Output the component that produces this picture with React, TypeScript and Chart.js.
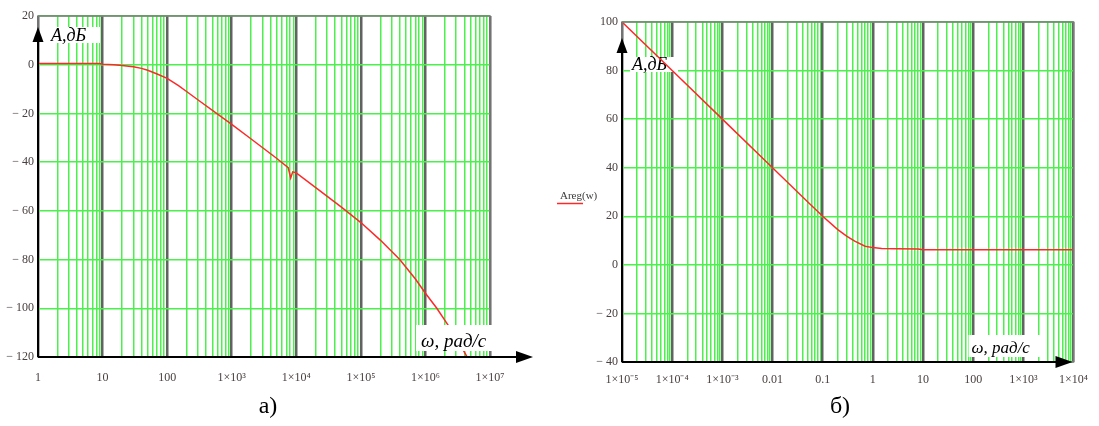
import React, { useEffect, useRef } from 'react';
import { Chart, registerables } from 'chart.js';

Chart.register(...registerables);

// ---- Chart a) data ----
const omegaA = [1, 2, 5, 9, 10, 15, 20, 30, 40, 50, 70, 100, 150, 200, 321, 583, 1000, 2000, 5000, 7500, 8200, 8800, 10000, 2e4, 5e4, 1e5, 2e5, 4e5, 7e5, 1e6, 1.5e6, 2.1e6, 3e6, 4.3e6, 5e6];
const gainA = [0.5, 0.5, 0.5, 0.5, 0.2, 0, -0.3, -0.8, -1.5, -2.3, -3.8, -5.6, -8.6, -11, -15, -20, -24.5, -30.5, -38.5, -42.3, -46.5, -44.0, -44.4, -50.5, -58.5, -64.8, -72, -80, -88, -93.8, -100, -105.8, -112, -119.4, -124];
const decadesA = [1, 10, 100, 1e3, 1e4, 1e5, 1e6, 1e7];
const xLabelsA = ['1', '10', '100', '1×10³', '1×10⁴', '1×10⁵', '1×10⁶', '1×10⁷'];
const yMinA = -120;
const yMaxA = 20;

// ---- Chart б) data ----
const omegaB = [1e-5, 1e-4, 1e-3, 0.01, 0.05, 0.1, 0.2, 0.3, 0.435, 0.7, 1, 1.5, 3, 8, 10, 100, 1000, 1e4];
const gainB = [100, 80, 60, 40, 26, 20, 14.5, 11.8, 9.8, 7.7, 7.1, 6.7, 6.6, 6.5, 6.2, 6.2, 6.2, 6.2];
const decadesB = [1e-5, 1e-4, 1e-3, 0.01, 0.1, 1, 10, 100, 1e3, 1e4];
const xLabelsB = ['1×10⁻⁵', '1×10⁻⁴', '1×10⁻³', '0.01', '0.1', '1', '10', '100', '1×10³', '1×10⁴'];
const yMinB = -40;
const yMaxB = 100;

const yStep = 20;
const yAxisTitle = 'A,дБ';
const xAxisTitle = 'ω, рад/с';
const seriesNameB = 'Areg(w)';

const SERIF = "'Liberation Serif', 'Times New Roman', serif";
const GREEN = '#4cf04c';
const DECADE = '#626262';
const RED = 'rgb(255,40,40)';

const isDecade = (v: number) => Math.abs(Math.log10(v) - Math.round(Math.log10(v))) < 1e-6;

function gridValues(decades: number[]) {
  const out: number[] = [];
  for (let i = 0; i < decades.length - 1; i++) {
    for (let k = 1; k <= 9; k++) out.push(decades[i] * k);
  }
  out.push(decades[decades.length - 1]);
  return out;
}

const fmtY = (v: number) => (v < 0 ? '\u2212 ' + Math.abs(v) : String(v));

interface Deco {
  yTitle: { dx: number; dy: number; size: number; box: [number, number, number, number] };
  xTitle: { dx: number; dy: number; size: number; box: [number, number, number, number] };
  yArrowTip: number;
  xArrowTip: number;
  labelsOver: boolean;
  legend?: boolean;
}

function drawLabel(ctx: CanvasRenderingContext2D, text: string, x: number, y: number, size: number, box: [number, number, number, number]) {
  ctx.save();
  ctx.fillStyle = '#ffffff';
  ctx.fillRect(box[0], box[1], box[2], box[3]);
  ctx.fillStyle = '#000000';
  ctx.font = `italic ${size}px ${SERIF}`;
  ctx.textBaseline = 'alphabetic';
  ctx.textAlign = 'left';
  ctx.fillText(text, x, y);
  ctx.restore();
}

function makeDecoPlugin(d: Deco) {
  const labels = (chart: any) => {
    const ctx = chart.ctx as CanvasRenderingContext2D;
    const a = chart.chartArea;
    const yb = d.yTitle.box;
    drawLabel(ctx, yAxisTitle, a.left + d.yTitle.dx, a.top + d.yTitle.dy, d.yTitle.size, [a.left + yb[0], a.top + yb[1], yb[2], yb[3]]);
    const xb = d.xTitle.box;
    drawLabel(ctx, xAxisTitle, a.right + d.xTitle.dx, a.bottom + d.xTitle.dy, d.xTitle.size, [a.right + xb[0], a.bottom + xb[1], xb[2], xb[3]]);
  };
  return {
    id: 'deco',
    beforeDatasetsDraw(chart: any) {
      if (!d.labelsOver) labels(chart);
    },
    afterDatasetsDraw(chart: any) {
      const ctx = chart.ctx as CanvasRenderingContext2D;
      const a = chart.chartArea;
      ctx.save();
      ctx.strokeStyle = '#7a7a7a';
      ctx.lineWidth = 1.5;
      ctx.strokeRect(a.left, a.top, a.right - a.left, a.bottom - a.top);
      ctx.strokeStyle = '#000';
      ctx.fillStyle = '#000';
      ctx.lineWidth = 2;
      const yTip = a.top + d.yArrowTip;
      ctx.beginPath();
      ctx.moveTo(a.left, a.bottom);
      ctx.lineTo(a.left, yTip + 12);
      ctx.stroke();
      ctx.beginPath();
      ctx.moveTo(a.left, yTip);
      ctx.lineTo(a.left - 5.5, yTip + 15);
      ctx.lineTo(a.left + 5.5, yTip + 15);
      ctx.closePath();
      ctx.fill();
      const xTip = a.right + d.xArrowTip;
      ctx.beginPath();
      ctx.moveTo(a.left, a.bottom);
      ctx.lineTo(xTip - 12, a.bottom);
      ctx.stroke();
      ctx.beginPath();
      ctx.moveTo(xTip, a.bottom);
      ctx.lineTo(xTip - 17, a.bottom - 6);
      ctx.lineTo(xTip - 17, a.bottom + 6);
      ctx.closePath();
      ctx.fill();
      ctx.restore();
      if (d.labelsOver) labels(chart);
      if (d.legend) {
        ctx.save();
        ctx.font = `11px ${SERIF}`;
        ctx.fillStyle = '#3a3a3a';
        ctx.textBaseline = 'alphabetic';
        ctx.fillText(seriesNameB, a.left - 62, a.top + 177);
        ctx.strokeStyle = RED;
        ctx.lineWidth = 1.5;
        ctx.beginPath();
        ctx.moveTo(a.left - 65, a.top + 181.5);
        ctx.lineTo(a.left - 39, a.top + 181.5);
        ctx.stroke();
        ctx.restore();
      }
    },
  };
}

interface Cfg {
  omega: number[];
  gain: number[];
  decades: number[];
  xLabels: string[];
  yMin: number;
  yMax: number;
  padding: { left: number; top: number; right: number; bottom: number };
  yWidth: number;
  xHeight: number;
  xPad: number;
  deco: Deco;
}

function build(canvas: HTMLCanvasElement, c: Cfg) {
  const grid = gridValues(c.decades);
  const pts = c.omega.map((w, i) => ({ x: w, y: c.gain[i] }));
  return new Chart(canvas, {
    type: 'line',
    data: {
      datasets: [
        {
          data: pts,
          borderColor: RED,
          borderWidth: 1.5,
          pointRadius: 0,
          tension: 0,
          fill: false,
        },
      ],
    },
    options: {
      animation: false,
      responsive: false,
      maintainAspectRatio: false,
      devicePixelRatio: 1,
      events: [],
      layout: { padding: c.padding },
      plugins: { legend: { display: false }, tooltip: { enabled: false } },
      scales: {
        x: {
          type: 'logarithmic',
          min: c.decades[0],
          max: c.decades[c.decades.length - 1],
          afterBuildTicks: (s: any) => {
            s.ticks = grid.map((v) => ({ value: v }));
          },
          afterFit: (s: any) => {
            s.height = c.xHeight;
          },
          border: { display: false },
          grid: {
            drawTicks: false,
            color: (ctx: any) => (ctx.tick && isDecade(ctx.tick.value) ? DECADE : GREEN),
            lineWidth: (ctx: any) => (ctx.tick && isDecade(ctx.tick.value) ? 2.5 : 1.5),
          },
          ticks: {
            autoSkip: false,
            maxRotation: 0,
            minRotation: 0,
            padding: c.xPad,
            color: '#4a4040',
            font: { family: SERIF, size: 12 },
            callback: (value: any) => {
              const v = Number(value);
              const i = c.decades.findIndex((d) => Math.abs(Math.log10(d) - Math.log10(v)) < 1e-6);
              return i >= 0 ? c.xLabels[i] : '';
            },
          },
        },
        y: {
          type: 'linear',
          min: c.yMin,
          max: c.yMax,
          afterFit: (s: any) => {
            s.width = c.yWidth;
          },
          border: { display: false },
          grid: { drawTicks: false, color: GREEN, lineWidth: 1.5 },
          ticks: {
            stepSize: yStep,
            padding: 4,
            color: '#4a4040',
            font: { family: SERIF, size: 12 },
            callback: (value: any) => fmtY(Number(value)),
          },
        },
      },
    },
    plugins: [makeDecoPlugin(c.deco)],
  } as any);
}

export default function App() {
  const refA = useRef<HTMLCanvasElement>(null);
  const refB = useRef<HTMLCanvasElement>(null);

  useEffect(() => {
    const a = build(refA.current!, {
      omega: omegaA,
      gain: gainA,
      decades: decadesA,
      xLabels: xLabelsA,
      yMin: yMinA,
      yMax: yMaxA,
      padding: { left: 0, top: 16, right: 55, bottom: 39 },
      yWidth: 38,
      xHeight: 30,
      xPad: 14,
      deco: {
        yTitle: { dx: 13, dy: 25, size: 18, box: [11, 11, 51, 16] },
        xTitle: { dx: -69, dy: -10, size: 19, box: [-74, -32, 82, 26] },
        yArrowTip: 11,
        xArrowTip: 43,
        labelsOver: true,
      },
    });
    const b = build(refB.current!, {
      omega: omegaB,
      gain: gainB,
      decades: decadesB,
      xLabels: xLabelsB,
      yMin: yMinB,
      yMax: yMaxB,
      padding: { left: 0, top: 22, right: 21, bottom: 34 },
      yWidth: 77,
      xHeight: 30,
      xPad: 11,
      deco: {
        yTitle: { dx: 10, dy: 48, size: 18, box: [8, 35, 48, 15] },
        xTitle: { dx: -102, dy: -9, size: 17, box: [-105, -27, 72, 22] },
        yArrowTip: 16,
        xArrowTip: -1,
        labelsOver: false,
        legend: true,
      },
    });
    return () => {
      a.destroy();
      b.destroy();
    };
  }, []);

  const capStyle: React.CSSProperties = {
    position: 'absolute',
    top: 391,
    fontFamily: SERIF,
    fontSize: 24,
    lineHeight: '28px',
    color: '#000',
    transform: 'translateX(-50%)',
    whiteSpace: 'nowrap',
  };

  return (
    <div style={{ position: 'fixed', left: 0, top: 0, width: 1099, height: 426, background: '#fff', overflow: 'hidden' }}>
      <canvas ref={refA} width={545} height={426} style={{ position: 'absolute', left: 0, top: 0, width: 545, height: 426 }} />
      <canvas ref={refB} width={554} height={426} style={{ position: 'absolute', left: 545, top: 0, width: 554, height: 426 }} />
      <div style={{ ...capStyle, left: 268 }}>а)</div>
      <div style={{ ...capStyle, left: 840 }}>б)</div>
    </div>
  );
}
